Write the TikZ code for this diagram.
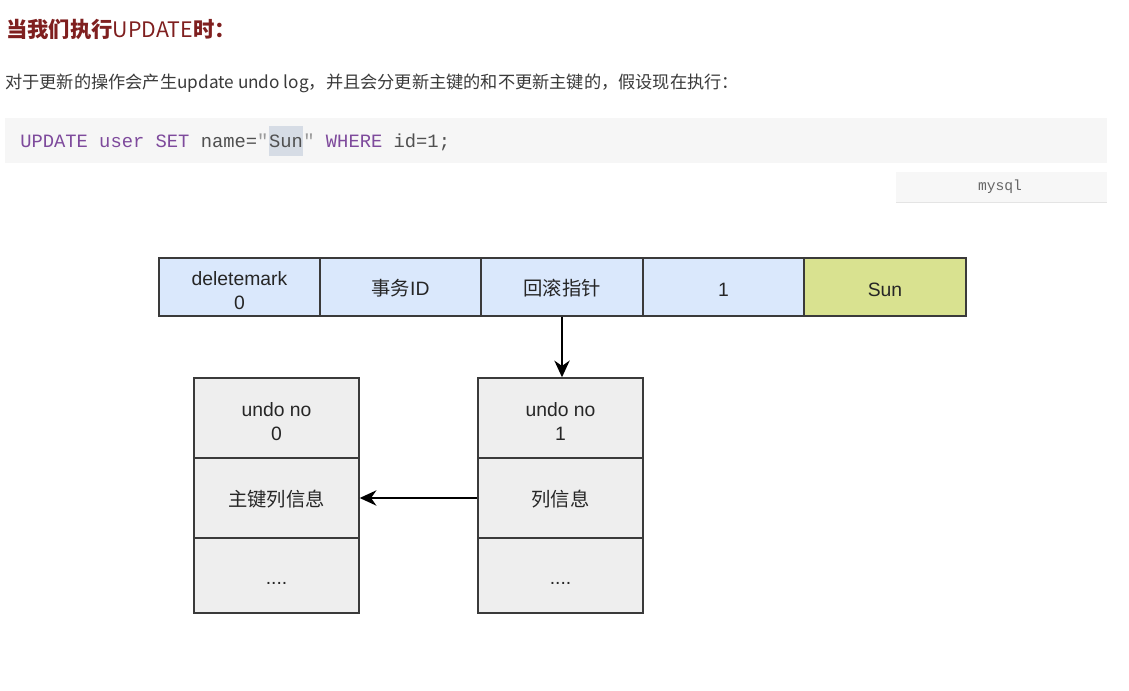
\documentclass[tikz,border=0pt]{standalone}
\usepackage{fontspec}
\setmainfont{Liberation Sans}
\newfontfamily\cjk{Noto Sans CJK SC}
\newfontfamily\codefont{Liberation Mono}
\usetikzlibrary{arrows.meta}
\definecolor{titlec}{HTML}{7F1F1F}
\definecolor{textc}{HTML}{3A3A3A}
\definecolor{codebg}{HTML}{F6F6F6}
\definecolor{tabbg}{HTML}{F7F7F7}
\definecolor{tabline}{HTML}{E4E4E4}
\definecolor{kwc}{HTML}{7E4A9C}
\definecolor{plainc}{HTML}{505050}
\definecolor{quotec}{HTML}{9A9A9A}
\definecolor{hlc}{HTML}{D6DCE5}
\definecolor{linec}{HTML}{3A3A3A}
\definecolor{bluec}{HTML}{DAE8FC}
\definecolor{sunc}{HTML}{D9E290}
\definecolor{undoc}{HTML}{EEEEEE}
\newcommand\firstline{\rule{0pt}{16pt}}
\begin{document}
\begin{tikzpicture}[x=0.75pt,y=-0.75pt,
  cell/.style={draw=linec, line width=1.1pt, inner sep=0pt, align=center,
    font=\fontsize{14.5}{17.5}\selectfont, text=black!85,
    execute at begin node={\rule{0pt}{14pt}}},
  dotcell/.style={execute at begin node={\rule{0pt}{9pt}}},
  topcell/.style={cell, fill=bluec, minimum height=58*0.75pt},
  undocell/.style={cell, fill=undoc, minimum width=165*0.75pt},
  arr/.style={draw=black, line width=1.2pt, -{Stealth[length=12.5pt,width=11.5pt,inset=4pt]}},
  codetxt/.style={anchor=base west, inner sep=0pt, font=\codefont\fontsize{14.1}{16}\selectfont, text=plainc}
]
\useasboundingbox (0,0) rectangle (1129,691);
\fill[white] (0,0) rectangle (1129,691);

% heading and intro
\node[anchor=base west, inner sep=0pt, text=titlec,
  font=\cjk\fontsize{16}{18}\selectfont] (title) at (6,38) {\bfseries 当我们执行\mdseries UPDATE\bfseries 时：};
\node[anchor=base west, inner sep=0pt, text=textc,
  font=\cjk\fontsize{12.9}{16}\selectfont] (intro) at (5,89)
  {对于更新的操作会产生update undo log，并且会分更新主键的和不更新主键的，假设现在执行：};

% code block
\fill[codebg] (5,118) rectangle (1107,163);
\node[codetxt] (code1) at (20,148)
  {{\color{kwc}UPDATE} {\color{kwc}user} {\color{kwc}SET} name={\color{quotec}"}};
\node[codetxt, fill=hlc, text height=16.5pt, text depth=6pt] (code2) at (code1.base east) {Sun};
\node[codetxt] (code3) at (code2.base east)
  {{\color{quotec}"} {\color{kwc}WHERE} id=1;};

% language tab
\fill[tabbg] (896,172) rectangle (1107,202);
\draw[tabline, line width=0.9pt] (896,202.5) -- (1107,202.5);
\node[font=\codefont\fontsize{11}{13}\selectfont, text=black!60, inner sep=0pt] (lang) at (1000,187) {mysql};

% top row
\node[topcell, minimum width=161*0.75pt] (dm)  at (239.5,287) {\firstline deletemark\\0};
\node[topcell, minimum width=161*0.75pt] (tid) at (400.5,287) {{\cjk 事务}ID};
\node[topcell, minimum width=162*0.75pt] (ptr) at (562,287)   {\cjk 回滚指针};
\node[topcell, minimum width=161*0.75pt] (idv) at (723.5,287) {1};
\node[topcell, fill=sunc, minimum width=162*0.75pt] (sunv) at (885,287) {Sun};

% undo log 0
\node[undocell, minimum height=80*0.75pt] (u0a) at (276.5,418)   {\firstline undo no\\0};
\node[undocell, minimum height=80*0.75pt] (u0b) at (276.5,498)   {\cjk 主键列信息};
\node[undocell, dotcell, minimum height=75*0.75pt] (u0c) at (276.5,575.5) {....};

% undo log 1
\node[undocell, minimum height=80*0.75pt] (u1a) at (560.5,418)   {\firstline undo no\\1};
\node[undocell, minimum height=80*0.75pt] (u1b) at (560.5,498)   {\cjk 列信息};
\node[undocell, dotcell, minimum height=75*0.75pt] (u1c) at (560.5,575.5) {....};

% connectors
\draw[arr] (ptr.south) -- (ptr.south |- u1a.north);
\draw[arr] (u1b.west) -- (u0b.east);
\end{tikzpicture}
\end{document}
